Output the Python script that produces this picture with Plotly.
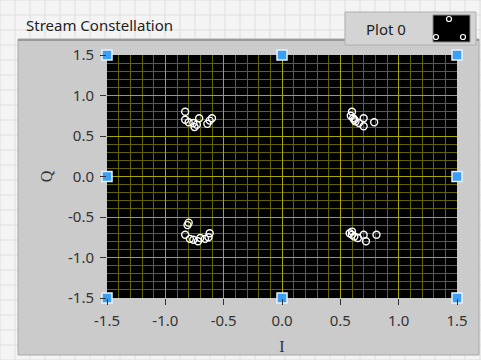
import plotly.graph_objects as go

# Constellation samples (I, Q) for the four QPSK clusters
i_vals = [
    -0.83, -0.83, -0.80, -0.76, -0.75, -0.71, -0.64, -0.60, -0.62, -0.73,
    0.60, 0.59, 0.61, 0.63, 0.66, 0.70, 0.70, 0.79, 0.62,
    -0.80, -0.81, -0.83, -0.79, -0.76, -0.72, -0.70, -0.66, -0.62, -0.63,
    0.58, 0.60, 0.62, 0.65, 0.70, 0.72, 0.81, 0.60,
]
q_vals = [
    0.80, 0.70, 0.67, 0.66, 0.61, 0.72, 0.65, 0.72, 0.69, 0.64,
    0.80, 0.75, 0.72, 0.68, 0.66, 0.62, 0.72, 0.67, 0.70,
    -0.57, -0.60, -0.72, -0.77, -0.78, -0.80, -0.76, -0.77, -0.70, -0.75,
    -0.70, -0.72, -0.74, -0.76, -0.72, -0.80, -0.72, -0.68,
]

# Cursor handle positions on the plot frame
handle_i = [-1.5, 0.0, 1.5, -1.5, 1.5, -1.5, 0.0, 1.5]
handle_q = [1.5, 1.5, 1.5, 0.0, 0.0, -1.5, -1.5, -1.5]

tick_vals = [-1.5, -1.0, -0.5, 0.0, 0.5, 1.0, 1.5]
tick_text = ["-1.5", "-1.0", "-0.5", "0.0", "0.5", "1.0", "1.5"]

W, H = 481, 360
ML, MR, MT, MB = 107, 24, 55, 62
PW, PH = W - ML - MR, H - MT - MB


def px_x(px):
    return (px - ML) / PW


def px_y(py):
    return (H - MB - py) / PH


fig = go.Figure()

fig.add_trace(go.Scatter(
    x=i_vals, y=q_vals, mode="markers", name="Plot 0",
    marker=dict(symbol="circle-open", size=7, color="white", line=dict(width=1.4, color="white")),
    hoverinfo="x+y", showlegend=False,
))

fig.add_trace(go.Scatter(
    x=handle_i, y=handle_q, mode="markers", cliponaxis=False,
    marker=dict(symbol="square", size=10, color="#3d9ef5", line=dict(width=1.5, color="#e8f2ff")),
    hoverinfo="skip", showlegend=False,
))

shapes = []
# page background grid
for gx in range(0, W + 1, 15):
    shapes.append(dict(type="line", xref="paper", yref="paper", layer="below",
                       x0=px_x(gx), x1=px_x(gx), y0=px_y(0), y1=px_y(H),
                       line=dict(color="#dedede", width=1)))
for gy in range(0, H + 1, 15):
    shapes.append(dict(type="line", xref="paper", yref="paper", layer="below",
                       x0=px_x(0), x1=px_x(W), y0=px_y(gy), y1=px_y(gy),
                       line=dict(color="#dedede", width=1)))
# graph panel
shapes.append(dict(type="rect", xref="paper", yref="paper", layer="below",
                   x0=px_x(18), x1=px_x(479), y0=px_y(39), y1=px_y(355),
                   fillcolor="#cbcbcb", line=dict(color="#a8a8a8", width=1)))
shapes.append(dict(type="line", xref="paper", yref="paper", layer="below",
                   x0=px_x(18), x1=px_x(479), y0=px_y(40), y1=px_y(40),
                   line=dict(color="#9a9a9a", width=2)))
# black plotting area on top of the panel
shapes.append(dict(type="rect", xref="paper", yref="paper", layer="below",
                   x0=0, x1=1, y0=0, y1=1,
                   fillcolor="black", line=dict(width=0)))
# legend box
shapes.append(dict(type="rect", xref="paper", yref="paper", layer="above",
                   x0=px_x(345), x1=px_x(476), y0=px_y(12), y1=px_y(45),
                   fillcolor="#d4d4d4", line=dict(color="#b0b0b0", width=1)))
shapes.append(dict(type="rect", xref="paper", yref="paper", layer="above",
                   x0=px_x(433), x1=px_x(470), y0=px_y(15), y1=px_y(42),
                   fillcolor="black", line=dict(color="#888888", width=1)))
for cx, cy in [(449, 19), (436, 37), (463, 37)]:
    shapes.append(dict(type="circle", xref="paper", yref="paper", layer="above",
                       x0=px_x(cx - 2.5), x1=px_x(cx + 2.5), y0=px_y(cy - 2.5), y1=px_y(cy + 2.5),
                       line=dict(color="white", width=1.2)))

font_family = "Noto Sans"

annotations = [
    dict(text="Stream Constellation", xref="paper", yref="paper",
         x=px_x(24), y=px_y(25), xanchor="left", yanchor="middle", showarrow=False,
         font=dict(family=font_family, size=15, color="#222222")),
    dict(text="Plot 0", xref="paper", yref="paper",
         x=px_x(364), y=px_y(29), xanchor="left", yanchor="middle", showarrow=False,
         font=dict(family=font_family, size=15, color="#222222")),
]

axis_common = dict(
    range=[-1.5, 1.5], tickvals=tick_vals, ticktext=tick_text,
    ticks="outside", ticklen=6, tickwidth=1, tickcolor="#333333",
    tickfont=dict(family=font_family, size=15, color="#333333"),
    showgrid=True, gridcolor="#a8a800", gridwidth=1,
    minor=dict(dtick=0.1, showgrid=True, gridcolor="#636300", gridwidth=1, ticks=""),
    zeroline=False, showline=False, fixedrange=True, automargin=False,
)

fig.update_layout(
    width=W, height=H,
    margin=dict(l=ML, r=MR, t=MT, b=MB, pad=0),
    paper_bgcolor="#f4f4f4", plot_bgcolor="black",
    shapes=shapes, annotations=annotations,
    xaxis=dict(**axis_common, ticklabelstandoff=3,
               title=dict(text="I", standoff=11,
                          font=dict(family="Liberation Serif", size=16, color="#333333"))),
    yaxis=dict(**axis_common, ticklabelstandoff=3,
               title=dict(text="Q", standoff=11,
                          font=dict(family="Liberation Serif", size=16, color="#333333"))),
    showlegend=False,
)

fig.write_html("out.html")
